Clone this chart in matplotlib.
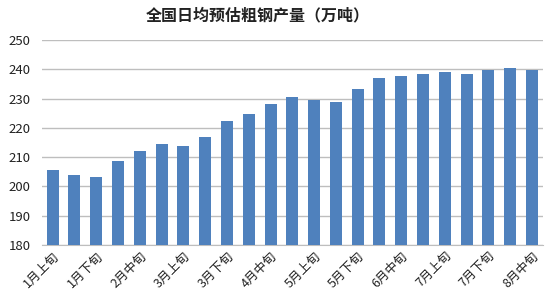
import matplotlib
matplotlib.use('Agg')
import matplotlib.pyplot as plt
import numpy as np

plt.rcParams['font.family'] = ['Noto Sans CJK SC', 'DejaVu Sans']

# 旬 periods, Jan to mid-Aug
periods = ['1月上旬', '1月中旬', '1月下旬', '2月上旬', '2月中旬', '2月下旬',
           '3月上旬', '3月中旬', '3月下旬', '4月上旬', '4月中旬', '4月下旬',
           '5月上旬', '5月中旬', '5月下旬', '6月上旬', '6月中旬', '6月下旬',
           '7月上旬', '7月中旬', '7月下旬', '8月上旬', '8月中旬']
# daily crude steel output estimate (10k tonnes)
output = [205.6, 203.9, 203.1, 208.8, 212.0, 214.5, 213.7, 216.9, 222.2, 224.7,
          228.1, 230.4, 229.5, 228.9, 233.2, 236.9, 237.8, 238.3, 239.2, 238.3,
          239.8, 240.3, 239.8]
yticks = [180, 190, 200, 210, 220, 230, 240, 250]

fig = plt.figure(figsize=(5.5, 3), dpi=100, facecolor='w')
ax = fig.add_axes([0.076, 0.183, 0.911, 0.684])

x = np.arange(len(periods))
ax.bar(x, output, width=0.55, color='#4F81BD', zorder=3)

ax.set_ylim(180, 250)
ax.set_xlim(-0.5, len(periods) - 0.5)
ax.set_yticks(yticks)
ax.yaxis.grid(True, color='#BEBEBE', lw=1, zorder=0)
ax.tick_params(axis='y', length=0, labelsize=9.5, colors='#222222', pad=8)
ax.tick_params(axis='x', length=0, labelsize=9, colors='#222222', pad=3)

ax.set_xticks(x[::2])
ax.set_xticklabels(periods[::2], rotation=45, ha='right', rotation_mode='anchor')

for s in ('top', 'right', 'left'):
    ax.spines[s].set_visible(False)
ax.spines['bottom'].set_color('#BEBEBE')

fig.text(0.468, 0.948, '全国日均预估粗钢产量（万吨）', ha='center', va='center',
         fontsize=11.5, fontweight='bold', color='#222222')

fig.savefig('out.png', dpi=100)
